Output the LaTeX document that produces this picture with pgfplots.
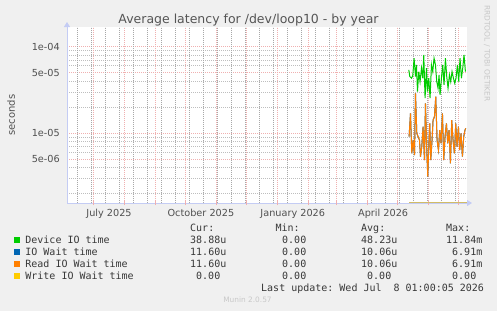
\documentclass[border=0pt]{standalone}
\usepackage{pgfplots}
\usepackage{pgfplotstable}
\pgfplotsset{compat=1.18}
\usepackage{fontspec}
\setmainfont{DejaVu Sans}
\newfontfamily\monofont{DejaVu Sans Mono}
\usetikzlibrary{arrows.meta}

\definecolor{bg}{HTML}{F0F0F0}
\definecolor{mgrid}{HTML}{F0B0B0}
\definecolor{ngrid}{HTML}{BEBEBE}
\definecolor{vgrid}{HTML}{A8A8A8}
\definecolor{axcol}{HTML}{C4CCF4}
\definecolor{titlecol}{HTML}{555555}
\definecolor{tcol}{HTML}{505050}
\definecolor{legcol}{HTML}{383838}
\definecolor{cgreen}{HTML}{00CC00}
\definecolor{cblue}{HTML}{0066B3}
\definecolor{corange}{HTML}{FF8000}
\definecolor{cyellow}{HTML}{FFCC00}

% day offsets from 1 July 2025
\pgfplotstableread{
day val
315.7 5.38e-5
316.7 4.51e-5
318.4 4.32e-5
319.7 4.64e-5
321.0 7.34e-5
322.4 4.51e-5
323.4 6.15e-5
324.4 3.03e-5
325.7 5.15e-5
327.0 3.94e-5
328.4 5.63e-5
329.7 4.32e-5
330.7 8.02e-5
332.0 2.54e-5
333.4 5.63e-5
334.4 3.03e-5
335.7 4.32e-5
337.0 2.54e-5
338.4 6.15e-5
339.7 5.15e-5
341.0 7.34e-5
342.4 6.15e-5
343.7 3.94e-5
345.0 3.31e-5
346.0 4.72e-5
347.0 2.77e-5
348.4 4.32e-5
349.7 6.15e-5
351.0 3.61e-5
352.4 7.34e-5
353.7 4.51e-5
355.0 3.31e-5
356.4 4.72e-5
357.7 3.94e-5
359.0 5.15e-5
360.4 4.32e-5
361.7 3.78e-5
363.0 4.32e-5
364.4 6.15e-5
365.7 3.94e-5
367.0 7.34e-5
368.4 4.32e-5
369.7 5.63e-5
371.0 8.02e-5
372.4 5.15e-5
}\devio

\pgfplotstableread{
day val
316.0 9.14e-6
317.4 1.70e-5
318.7 5.88e-6
320.0 8.37e-6
321.4 5.62e-6
322.4 2.89e-5
323.7 1.00e-5
325.0 9.14e-6
326.4 8.37e-6
327.4 5.37e-6
328.7 7.00e-6
330.0 1.19e-5
331.4 4.92e-6
332.4 2.22e-5
333.7 6.41e-6
334.7 3.16e-6
335.7 7.00e-6
336.7 1.30e-5
337.7 4.92e-6
339.0 8.37e-6
340.0 1.42e-5
341.4 1.55e-5
342.7 2.64e-5
344.0 8.37e-6
345.4 6.41e-6
346.7 1.09e-5
348.0 7.67e-6
349.4 1.70e-5
350.7 4.92e-6
352.0 9.14e-6
353.4 1.30e-5
354.7 7.67e-6
356.0 1.09e-5
357.4 4.51e-6
358.7 1.42e-5
360.0 8.37e-6
361.4 5.88e-6
362.7 1.30e-5
364.0 7.00e-6
365.4 1.19e-5
366.7 6.41e-6
368.0 1.00e-5
369.4 5.37e-6
370.7 9.14e-6
372.0 1.09e-5
372.7 1.14e-5
}\iowait

% write IO wait time is 0 throughout (drawn on the lower edge)
\pgfplotstableread{
day val
316.0 1.6e-6
374.0 1.6e-6
}\wrwait

\begin{document}
\begin{tikzpicture}[x=1bp,y=1bp]
\useasboundingbox (0,0) rectangle (497,311);
\fill[bg] (0,0) rectangle (497,311);

\begin{axis}[
  at={(67bp,108bp)}, anchor=south west,
  scale only axis, width=400bp, height=176bp,
  xmin=-26.6, xmax=374,
  ymode=log, ymin=1.57e-6, ymax=1.683e-4,
  axis background/.style={fill=white},
  axis x line=bottom, axis y line=left,
  axis line style={draw=axcol, line width=0.9bp},
  x axis line style={-{Triangle[length=5bp,width=6bp]}, shorten >=-5bp},
  y axis line style={-{Triangle[length=5bp,width=6bp]}, shorten >=-5bp},
  xtick={15.5,107.5,199.5,290},
  xticklabels={July 2025, October 2025, January 2026, April 2026},
  extra x ticks={0,31,62,92,123,153,184,215,243,274,304,335,365},
  extra x tick labels={},
  extra x tick style={xmajorgrids=true, major tick length=4bp, tick style={draw=mgrid, line width=0.8bp}},
  ytick={5e-6,1e-5,5e-5,1e-4},
  yticklabels={5e-06,1e-05,5e-05,1e-04},
  minor ytick={2e-6,3e-6,4e-6,6e-6,7e-6,8e-6,9e-6,2e-5,3e-5,4e-5,6e-5,7e-5,8e-5,9e-5},
  xmajorgrids=false,
  ymajorgrids=true, yminorgrids=true,
  major tick length=0pt, minor tick length=0pt,
  tick align=center,
  major grid style={draw=mgrid, dash pattern=on 1bp off 1bp, line width=0.8bp},
  minor grid style={draw=ngrid, dash pattern=on 1bp off 1bp, line width=0.8bp},
  xticklabel style={font=\fontsize{9.7bp}{11bp}\selectfont, text=tcol, anchor=base, inner sep=0pt, yshift=-13.3bp},
  yticklabel style={font=\fontsize{9.7bp}{11bp}\selectfont, text=tcol, anchor=east, inner sep=0pt, xshift=-7bp},
  clip=true,
]
% fortnightly minor grid lines
\pgfplotsinvokeforeach{-16,-2,12,26,40,54,68,82,96,110,124,138,152,166,180,194,208,222,236,250,264,278,292,306,320,334,348,362}{
  \draw[vgrid, dash pattern=on 1bp off 1bp, line width=1bp] (axis cs:#1,1.57e-6) -- (axis cs:#1,1.683e-4);
}
\addplot[draw=cgreen, line width=1bp] table[x=day, y=val] {\devio};
\addplot[draw=cblue, line width=1bp] table[x=day, y=val] {\iowait};
\addplot[draw=corange, line width=1bp] table[x=day, y=val] {\iowait};
\addplot[draw=cyellow!70!black!60!white, line width=1.2bp] table[x=day, y=val] {\wrwait};
\end{axis}

\node[font=\fontsize{12.5bp}{14bp}\selectfont, text=titlecol, anchor=base] at (248.5,288) {Average latency for /dev/loop10 - by year};
\node[rotate=90, font=\fontsize{10bp}{12bp}\selectfont, text=tcol] at (11.2,196) {seconds};
\node[rotate=-90, font=\fontsize{7.5bp}{9bp}\selectfont, text={rgb,255:red,200;green,200;blue,200}] at (487,257.5) {RRDTOOL / TOBI OETIKER};

\begin{scope}[every node/.style={anchor=base west, inner sep=0pt, font=\monofont\fontsize{10bp}{12bp}\selectfont, text=legcol}]
\node at (190,79.2) {Cur:};
\node at (275.3,79.2) {Min:};
\node at (361,79.2) {Avg:};
\node at (446,79.2) {Max:};
% rows
\fill[cgreen] (14,67.7) rectangle (20,73.7);
\node at (25.2,67.4) {Device IO time};
\node at (190,67.4) {38.88u};
\node at (282,67.4) {0.00};
\node at (361,67.4) {48.23u};
\node at (446,67.4) {11.84m};
\fill[cblue] (14,55.9) rectangle (20,61.9);
\node at (25.2,55.6) {IO Wait time};
\node at (190,55.6) {11.60u};
\node at (282,55.6) {0.00};
\node at (361,55.6) {10.06u};
\node at (452,55.6) {6.91m};
\fill[corange] (14,44.1) rectangle (20,50.1);
\node at (25.2,43.8) {Read IO Wait time};
\node at (190,43.8) {11.60u};
\node at (282,43.8) {0.00};
\node at (361,43.8) {10.06u};
\node at (452,43.8) {6.91m};
\fill[cyellow] (14,32.3) rectangle (20,38.3);
\node at (25.2,32.0) {Write IO Wait time};
\node at (196,32.0) {0.00};
\node at (282,32.0) {0.00};
\node at (367,32.0) {0.00};
\node at (452,32.0) {0.00};
\node at (261,20.0) {Last update:\ Wed\ Jul\ \ 8\ 01:00:05\ 2026};
\end{scope}
\node[font=\fontsize{7.4bp}{9bp}\selectfont, text={rgb,255:red,200;green,200;blue,200}, anchor=base] at (247.5,8.5) {Munin 2.0.57};
\end{tikzpicture}
\end{document}
